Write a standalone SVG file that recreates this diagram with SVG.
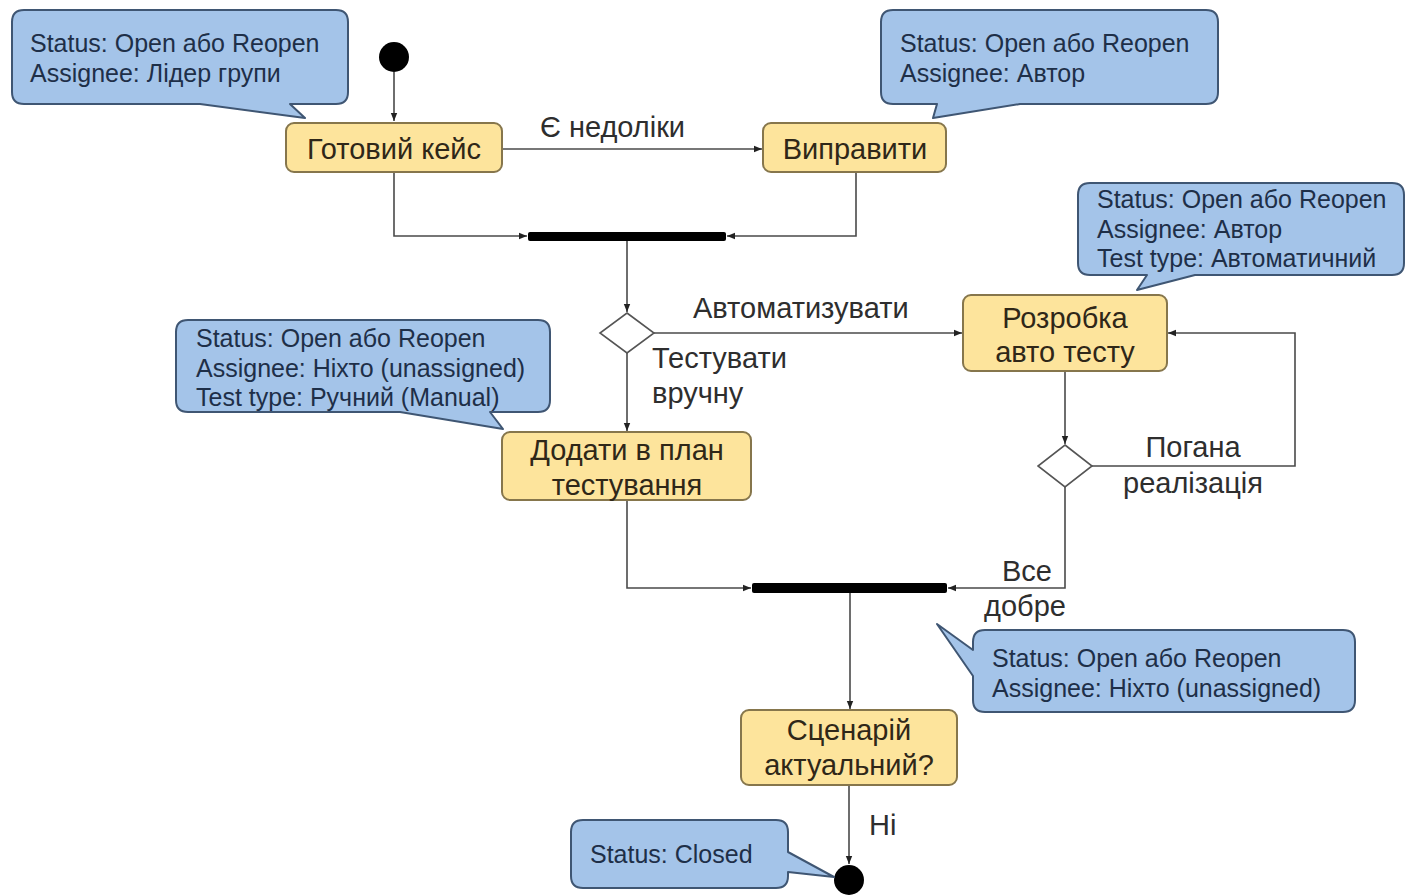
<svg xmlns="http://www.w3.org/2000/svg" width="1406" height="895" viewBox="0 0 1406 895">
<style>
.callout{fill:#a4c4e9;stroke:#3f5673;stroke-width:2;stroke-linejoin:round}
.ct{font-family:"Liberation Sans",Arial,sans-serif;font-size:25px;fill:#1e2f48}
.node{fill:#fde49c;stroke:#86764c;stroke-width:2}
.nt{font-family:"Liberation Sans",Arial,sans-serif;font-size:29px;fill:#2f2718;text-anchor:middle}
.lbl{font-family:"Liberation Sans",Arial,sans-serif;font-size:29px;fill:#2e2e2e}
.edge{fill:none;stroke:#4a4a4a;stroke-width:1.6}
.bar{fill:#000}
.dia{fill:#fff;stroke:#555;stroke-width:1.6}
</style>
<defs>
<marker id="ah" viewBox="0 0 10 10" refX="10" refY="5" markerWidth="8" markerHeight="8" markerUnits="userSpaceOnUse" orient="auto">
<path d="M0,1 L10,5 L0,9 Z" fill="#222"/>
</marker>
</defs>
<rect width="1406" height="895" fill="#fff"/>

<g id="connectors">
<path class="edge" d="M394,72 V121" marker-end="url(#ah)"/>
<path class="edge" d="M502,149 H762" marker-end="url(#ah)"/>
<path class="edge" d="M394,172 V236 H527" marker-end="url(#ah)"/>
<path class="edge" d="M856,172 V236 H727" marker-end="url(#ah)"/>
<path class="edge" d="M627,241 V312" marker-end="url(#ah)"/>
<path class="edge" d="M654,333 H962" marker-end="url(#ah)"/>
<path class="edge" d="M627,353 V431" marker-end="url(#ah)"/>
<path class="edge" d="M1065,371 V444" marker-end="url(#ah)"/>
<path class="edge" d="M1092,466 H1295 V333 H1168" marker-end="url(#ah)"/>
<path class="edge" d="M1065,487 V588 H948" marker-end="url(#ah)"/>
<path class="edge" d="M627,500 V588 H751" marker-end="url(#ah)"/>
<path class="edge" d="M850,593 V709" marker-end="url(#ah)"/>
<path class="edge" d="M849,785 V864" marker-end="url(#ah)"/>
<text class="lbl" x="540" y="137">Є недоліки</text>
<text class="lbl" x="693" y="318">Автоматизувати</text>
<text class="lbl" x="652" y="368">Тестувати</text>
<text class="lbl" x="652" y="403">вручну</text>
<text class="lbl" x="1193" y="457" text-anchor="middle">Погана</text>
<text class="lbl" x="1193" y="493" text-anchor="middle">реалізація</text>
<text class="lbl" x="1027" y="581" text-anchor="middle">Все</text>
<text class="lbl" x="1025" y="616" text-anchor="middle">добре</text>
<text class="lbl" x="869" y="835">Ні</text>
</g>

<g id="start"><circle cx="394" cy="57" r="15" fill="#000"/></g>
<g id="end"><circle cx="849" cy="880" r="15" fill="#000"/></g>

<g id="note1">
<path class="callout" d="M24,10 H336 Q348,10 348,22 V92 Q348,104 336,104 H290 L305,118 L200,104 H24 Q12,104 12,92 V22 Q12,10 24,10 Z"/>
<text class="ct" x="30" y="52">Status: Open або Reopen</text>
<text class="ct" x="30" y="82">Assignee: Лідер групи</text>
</g>
<g id="note2">
<path class="callout" d="M893,10 H1206 Q1218,10 1218,22 V92 Q1218,104 1206,104 H1020 L933,118 L937,104 H893 Q881,104 881,92 V22 Q881,10 893,10 Z"/>
<text class="ct" x="900" y="52">Status: Open або Reopen</text>
<text class="ct" x="900" y="82">Assignee: Автор</text>
</g>
<g id="note3">
<path class="callout" d="M1090,183 H1392 Q1404,183 1404,195 V263 Q1404,275 1392,275 H1195 L1137,290 L1147,275 H1090 Q1078,275 1078,263 V195 Q1078,183 1090,183 Z"/>
<text class="ct" x="1097" y="208">Status: Open або Reopen</text>
<text class="ct" x="1097" y="238">Assignee: Автор</text>
<text class="ct" x="1097" y="267">Test type: Автоматичний</text>
</g>
<g id="note4">
<path class="callout" d="M188,320 H538 Q550,320 550,332 V400 Q550,412 538,412 H490 L503,429 L400,412 H188 Q176,412 176,400 V332 Q176,320 188,320 Z"/>
<text class="ct" x="196" y="347">Status: Open або Reopen</text>
<text class="ct" x="196" y="377">Assignee: Ніхто (unassigned)</text>
<text class="ct" x="196" y="406">Test type: Ручний (Manual)</text>
</g>
<g id="note5">
<path class="callout" d="M985,630 H1343 Q1355,630 1355,642 V700 Q1355,712 1343,712 H985 Q973,712 973,700 V676 L937,624 L973,650 V642 Q973,630 985,630 Z"/>
<text class="ct" x="992" y="667">Status: Open або Reopen</text>
<text class="ct" x="992" y="697">Assignee: Ніхто (unassigned)</text>
</g>
<g id="note6">
<path class="callout" d="M583,820 H776 Q788,820 788,832 V852 L834,877 L788,872 V876 Q788,888 776,888 H583 Q571,888 571,876 V832 Q571,820 583,820 Z"/>
<text class="ct" x="590" y="863">Status: Closed</text>
</g>

<g id="n-ready"><rect class="node" x="286" y="123" width="216" height="49" rx="8"/><text class="nt" x="394" y="159">Готовий кейс</text></g>
<g id="n-fix"><rect class="node" x="763" y="123" width="183" height="49" rx="8"/><text class="nt" x="855" y="159">Виправити</text></g>
<g id="bar1"><rect class="bar" x="528" y="232" width="198" height="9" rx="2"/></g>
<g id="d1"><path class="dia" d="M627,313 L654,333 L627,353 L600,333 Z"/></g>
<g id="n-auto"><rect class="node" x="963" y="295" width="204" height="76" rx="8"/><text class="nt" x="1065" y="328">Розробка</text><text class="nt" x="1065" y="362">авто тесту</text></g>
<g id="d2"><path class="dia" d="M1065,445 L1092,466 L1065,487 L1038,466 Z"/></g>
<g id="n-plan"><rect class="node" x="502" y="432" width="249" height="68" rx="8"/><text class="nt" x="627" y="460">Додати в план</text><text class="nt" x="627" y="495">тестування</text></g>
<g id="bar2"><rect class="bar" x="752" y="583" width="195" height="10" rx="2"/></g>
<g id="n-actual"><rect class="node" x="741" y="710" width="216" height="75" rx="8"/><text class="nt" x="849" y="740">Сценарій</text><text class="nt" x="849" y="775">актуальний?</text></g>
</svg>
